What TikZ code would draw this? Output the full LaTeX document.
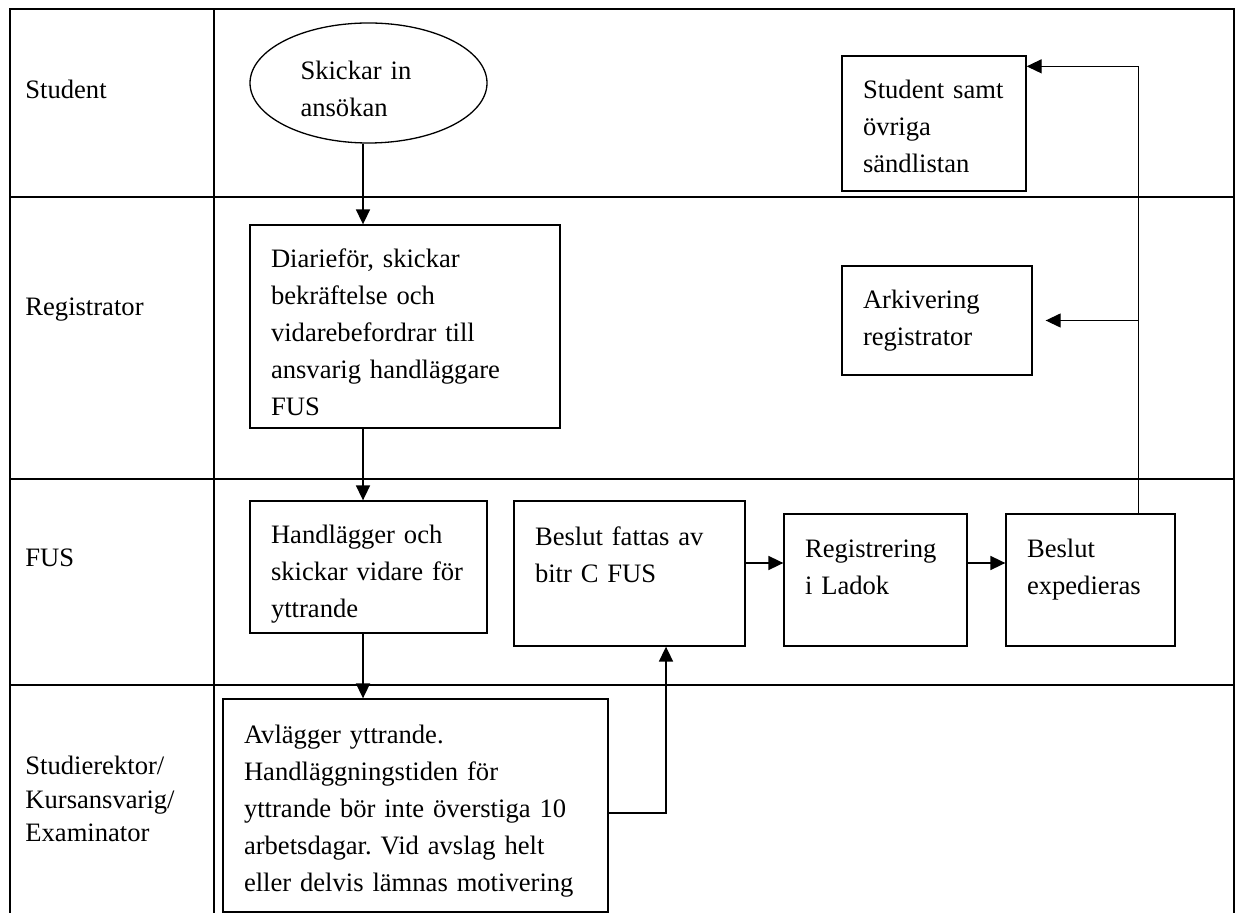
\documentclass[tikz,border=0pt]{standalone}
\usepackage{fontspec}
\setmainfont{Liberation Serif}
\usetikzlibrary{shapes.geometric,arrows.meta,calc}
\frenchspacing
\newcommand{\topstrut}[1]{\rule{0pt}{#1}}
\newcommand{\botstrut}[1]{\rule[-#1]{0pt}{0pt}}
\tikzset{
  tab/.style={line width=0.9pt},
  txt/.style={font=\fontsize{13.3pt}{18.5pt}\selectfont},
  lane/.style={txt, anchor=west, inner sep=0pt, align=left},
  box/.style={txt, draw, line width=0.65pt, align=left, inner xsep=10.5pt, inner ysep=0pt},
  arr/.style={line width=0.85pt, -{Triangle[length=7.5pt,width=7pt]}}
}
\begin{document}
\begin{tikzpicture}[x=0.5pt,y=-0.5pt]
\useasboundingbox (0,0) rectangle (1240,913);
% table frame
\draw[tab] (10,913) -- (10,9) -- (1234,9) -- (1234,913);
\draw[tab] (214,9) -- (214,913);
\foreach \yy in {197,479,685} \draw[tab] (10,\yy) -- (1234,\yy);
% lane labels
\node[lane] (lstud) at (25,89) {Student};
\node[lane] (lreg) at (25,310) {Registrator};
\node[lane] (lfus) at (25,558) {FUS};
\node[lane, font=\fontsize{13.3pt}{16.75pt}\selectfont] (lstr) at (25,799) {Studierektor/\\Kursansvarig/\\Examinator};
% process nodes
\node[txt, draw, line width=0.65pt, ellipse, minimum width=118.5pt, minimum height=60pt, inner sep=0pt, align=left, text width=68pt] (ell) at (368.5,83) {\topstrut{15.1pt}Skickar in\\ansökan};
\node[box, minimum height=101.5pt, text width=134pt] (dia) at (405,326.5) {\topstrut{15.1pt}Diarieför, skickar\\bekräftelse och\\vidarebefordrar till\\ansvarig handläggare\\FUS};
\node[box, minimum height=67.5pt, text width=71pt] (stud) at (934,123.5) {\topstrut{12.1pt}Student samt\\övriga\\sändlistan};
\node[box, minimum height=54.5pt, text width=74pt] (ark) at (937,320.5) {Arkivering\\registrator};
\node[box, minimum height=66pt, text width=97.5pt] (hand) at (368.5,567) {\topstrut{16.1pt}Handlägger och\\skickar vidare för\\yttrande};
\node[box, minimum height=72.5pt, text width=94.5pt] (bf) at (629.5,573.5) {Beslut fattas av\\bitr C FUS\botstrut{18.5pt}};
\node[box, minimum height=66pt, text width=70.5pt] (reg) at (875.5,580) {Registrering\\i Ladok\botstrut{13pt}};
\node[box, minimum height=66pt, text width=63.5pt] (exp) at (1090.5,580) {Beslut\\expedieras\botstrut{13pt}};
\node[box, minimum height=106.5pt, text width=171.5pt] (avl) at (415.5,805.5) {\topstrut{15.1pt}Avlägger yttrande.\\Handläggningstiden för\\yttrande bör inte överstiga 10\\arbetsdagar. Vid avslag helt\\eller delvis lämnas motivering};
% connectors
\coordinate (ax) at ([xshift=-2.75pt]ell.south);
\draw[arr] (ax) -- (ax |- dia.north);
\draw[arr] (ax |- dia.south) -- (ax |- hand.north);
\draw[arr] (ax |- hand.south) -- (ax |- avl.north);
\draw[arr] ([yshift=-3.75pt]avl.east) -| ([xshift=18.25pt]bf.south);
\coordinate (c1) at ([yshift=5.25pt]bf.east);
\draw[arr] (c1) -- (c1 -| reg.west);
\coordinate (c2) at ([yshift=8.5pt]reg.east);
\draw[arr] (c2) -- (c2 -| exp.west);
\coordinate (trunk) at ([xshift=66.5pt]exp.north west);
\draw[arr, line width=0.65pt] (trunk) |- ([yshift=-5.5pt]stud.north east);
\draw[arr, line width=0.65pt, shorten >=6.5pt] (trunk |- ark.east) -- (ark.east);
\end{tikzpicture}
\end{document}
